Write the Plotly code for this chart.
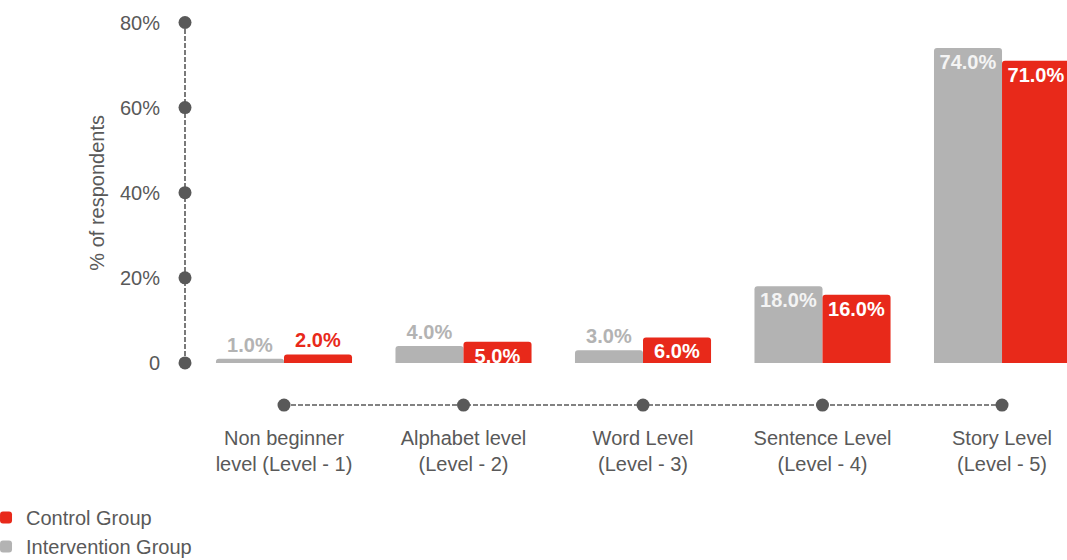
import plotly.graph_objects as go

categories = [
    "Non beginner<br>level (Level - 1)",
    "Alphabet level<br>(Level - 2)",
    "Word Level<br>(Level - 3)",
    "Sentence Level<br>(Level - 4)",
    "Story Level<br>(Level - 5)",
]
intervention = [1.0, 4.0, 3.0, 18.0, 74.0]
control = [2.0, 5.0, 6.0, 16.0, 71.0]
y_ticks = [0, 20, 40, 60, 80]
y_tick_text = ["0", "20%", "40%", "60%", "80%"]

GREY = "#B3B3B3"
RED = "#E8291A"
AXIS = "#595959"
FONT = "Liberation Sans, Arial, sans-serif"
FS = 20

intervention_pos = ["outside", "outside", "outside", "inside", "inside"]
control_pos = ["outside", "inside", "inside", "inside", "inside"]

xs = list(range(len(categories)))
X_RANGE = [-0.5515, 4.362]
Y_RANGE = [-12, 82]
X_AXIS_LEVEL = -9.9

fig = go.Figure()

fig.add_trace(go.Bar(
    name="Intervention Group", x=xs, y=intervention,
    marker=dict(color=GREY, cornerradius=3, line=dict(width=0)),
    texttemplate="%{y:.1f}%", textposition=intervention_pos,
    insidetextanchor="end", textangle=0, constraintext="none",
    insidetextfont=dict(family=FONT, size=FS, color="#F4F4F4", weight="bold"),
    outsidetextfont=dict(family=FONT, size=FS, color=GREY, weight="bold"),
    cliponaxis=False, hoverinfo="skip",
))
fig.add_trace(go.Bar(
    name="Control Group", x=xs, y=control,
    marker=dict(color=RED, cornerradius=3, line=dict(width=0)),
    texttemplate="%{y:.1f}%", textposition=control_pos,
    insidetextanchor="end", textangle=0, constraintext="none",
    insidetextfont=dict(family=FONT, size=FS, color="#FFFFFF", weight="bold"),
    outsidetextfont=dict(family=FONT, size=FS, color=RED, weight="bold"),
    cliponaxis=False, hoverinfo="skip",
))

# dots on the custom value axis
fig.add_trace(go.Scatter(
    x=[X_RANGE[0]] * len(y_ticks), y=y_ticks, mode="markers",
    marker=dict(color=AXIS, size=13), cliponaxis=False,
    showlegend=False, hoverinfo="skip",
))
# dots on the custom category axis
fig.add_trace(go.Scatter(
    x=xs, y=[X_AXIS_LEVEL] * len(xs), mode="markers",
    marker=dict(color=AXIS, size=13), cliponaxis=False,
    showlegend=False, hoverinfo="skip",
))


def to_paper_y(v):
    return (v - Y_RANGE[0]) / (Y_RANGE[1] - Y_RANGE[0])


fig.add_shape(type="line", xref="paper", yref="paper", x0=0, x1=0,
              y0=to_paper_y(y_ticks[0]), y1=to_paper_y(y_ticks[-1]),
              line=dict(color=AXIS, width=1.6, dash="5px,2px"), layer="below")
fig.add_shape(type="line", xref="x", yref="y", x0=xs[0], x1=xs[-1],
              y0=X_AXIS_LEVEL, y1=X_AXIS_LEVEL,
              line=dict(color=AXIS, width=1.6, dash="5px,2px"), layer="below")

fig.add_annotation(text="% of respondents", xref="paper", yref="y",
                   x=-0.0998, y=40, xanchor="center", yanchor="middle",
                   textangle=-90, showarrow=False,
                   font=dict(family=FONT, size=FS, color=AXIS))

fig.update_layout(
    width=1067, height=560,
    margin=dict(l=185, r=0, t=14, b=146, autoexpand=False),
    paper_bgcolor="white", plot_bgcolor="white",
    barmode="group", bargap=0.242, bargroupgap=0,
    font=dict(family=FONT, size=FS, color=AXIS),
    showlegend=True,
    legend=dict(
        orientation="v", traceorder="reversed",
        x=-0.2256, xanchor="left", y=-0.21, yanchor="top",
        font=dict(family=FONT, size=FS, color=AXIS),
        bgcolor="rgba(0,0,0,0)", itemclick=False,
    ),
    xaxis=dict(
        range=X_RANGE, tickvals=xs, ticktext=categories,
        showgrid=False, zeroline=False, showline=False, ticks="",
        ticklabelstandoff=10,
        tickfont=dict(family=FONT, size=FS, color=AXIS),
    ),
    yaxis=dict(
        range=Y_RANGE, tickvals=y_ticks, ticktext=y_tick_text,
        showgrid=False, zeroline=False, showline=False, ticks="",
        ticklabelstandoff=24,
        tickfont=dict(family=FONT, size=FS, color=AXIS),
    ),
)

fig.write_html("out.html")
